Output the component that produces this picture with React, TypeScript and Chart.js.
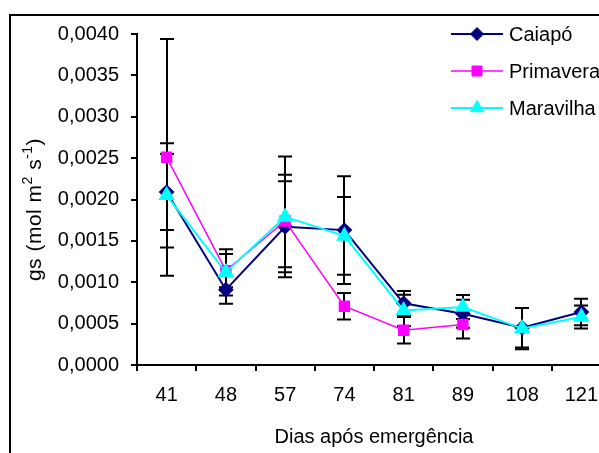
import React, { useEffect, useRef } from 'react';
import { Chart, registerables } from 'chart.js';

Chart.register(...registerables);

const categories = ['41', '48', '57', '74', '81', '89', '108', '121'];
const seriesNames = ['Caiapó', 'Primavera', 'Maravilha'];

const caiapo = [0.00209, 0.00091, 0.00167, 0.00163, 0.000745, 0.00062, 0.00045, 0.00064];
const caiapoErr = [0.00046, 0.00017, 0.00055, 0.00065, 0.00015, 0.00017, 0.00024, 0.00016];

const primavera = [0.00251, 0.00114, 0.00174, 0.00071, 0.00042, 0.00049, null, null];
const primaveraErr = [0.00143, 0.0002, 0.00056, 0.00016, 0.00016, 0.00017, null, null];

const maravilha = [0.00205, 0.00112, 0.00179, 0.00156, 0.00066, 0.0007, 0.00044, 0.00058];
const maravilhaErr = [0.00063, 0.00028, 0.00073, 0.00047, 0.00019, 0.000145, 0.00025, 0.00014];

const yTicks = [0, 0.0005, 0.001, 0.0015, 0.002, 0.0025, 0.003, 0.0035, 0.004];

const xTitle = 'Dias após emergência';
// y title pieces: [text, isSuperscript]
const yTitleParts: [string, boolean][] = [
  ['gs (mol m', false],
  ['2', true],
  [' s', false],
  ['-1', true],
  [')', false],
];

const FONT = '"Liberation Sans", Arial, Helvetica, sans-serif';

const errorBarsPlugin = {
  id: 'errorBars',
  beforeDatasetsDraw(chart: any) {
    const { ctx, scales } = chart;
    const x = scales.x;
    const y = scales.y;
    ctx.save();
    ctx.strokeStyle = '#000';
    ctx.lineWidth = 2;
    chart.data.datasets.forEach((ds: any) => {
      const errs = ds.errors || [];
      ds.data.forEach((v: number | null, i: number) => {
        const e = errs[i];
        if (v == null || e == null) return;
        const px = Math.round(x.getPixelForValue(i));
        const yt = y.getPixelForValue(v + e);
        const yb = y.getPixelForValue(v - e);
        ctx.beginPath();
        ctx.moveTo(px, yt);
        ctx.lineTo(px, yb);
        ctx.moveTo(px - 7, yt);
        ctx.lineTo(px + 7, yt);
        ctx.moveTo(px - 7, yb);
        ctx.lineTo(px + 7, yb);
        ctx.stroke();
      });
    });
    ctx.restore();
  },
};

function drawMarker(ctx: CanvasRenderingContext2D, style: string, x: number, y: number, color: string) {
  ctx.fillStyle = color;
  ctx.strokeStyle = color;
  ctx.lineWidth = 1;
  ctx.beginPath();
  if (style === 'rectRot') {
    ctx.moveTo(x, y - 6.5);
    ctx.lineTo(x + 6.5, y);
    ctx.lineTo(x, y + 6.5);
    ctx.lineTo(x - 6.5, y);
  } else if (style === 'rect') {
    ctx.rect(x - 5, y - 5, 10, 10);
  } else {
    ctx.moveTo(x, y - 7.5);
    ctx.lineTo(x + 6.5, y + 3.75);
    ctx.lineTo(x - 6.5, y + 3.75);
  }
  ctx.closePath();
  ctx.fill();
  ctx.stroke();
}

const legendPlugin = {
  id: 'excelLegend',
  afterDraw(chart: any) {
    const { ctx, chartArea } = chart;
    ctx.save();
    chart.data.datasets.forEach((ds: any, i: number) => {
      const y = chartArea.top + i * 37;
      const x0 = chartArea.right - 160;
      const x1 = chartArea.right - 108;
      ctx.strokeStyle = ds.borderColor;
      ctx.lineWidth = ds.borderWidth;
      ctx.beginPath();
      ctx.moveTo(x0, y);
      ctx.lineTo(x1, y);
      ctx.stroke();
      drawMarker(ctx, ds.pointStyle, (x0 + x1) / 2, y, ds.pointBackgroundColor);
      ctx.fillStyle = '#000';
      ctx.font = `20px ${FONT}`;
      ctx.textAlign = 'left';
      ctx.textBaseline = 'middle';
      ctx.fillText(ds.label, x1 + 6, y + 1);
    });
    ctx.restore();
  },
};

const yTitlePlugin = {
  id: 'yTitle',
  afterDraw(chart: any) {
    const { ctx, chartArea } = chart;
    ctx.save();
    const cy = (chartArea.top + chartArea.bottom) / 2 + 10;
    ctx.translate(29.5, cy);
    ctx.rotate(-Math.PI / 2);
    ctx.fillStyle = '#000';
    ctx.textAlign = 'left';
    ctx.textBaseline = 'alphabetic';
    try {
      (ctx as any).letterSpacing = '0.5px';
    } catch (e) {
      /* ignore */
    }
    const fontFor = (sup: boolean) => `${sup ? 14 : 21}px ${FONT}`;
    let total = 0;
    yTitleParts.forEach(([t, sup]) => {
      ctx.font = fontFor(sup);
      total += ctx.measureText(t).width;
    });
    let x = -total / 2;
    yTitleParts.forEach(([t, sup]) => {
      ctx.font = fontFor(sup);
      ctx.fillText(t, x, sup ? -9 : 0);
      x += ctx.measureText(t).width;
    });
    ctx.restore();
  },
};

export default function App() {
  const canvasRef = useRef<HTMLCanvasElement | null>(null);

  useEffect(() => {
    if (!canvasRef.current) return;
    Chart.defaults.font.family = FONT;
    Chart.defaults.font.size = 20;
    Chart.defaults.color = '#000';

    const chart = new Chart(canvasRef.current, {
      type: 'line',
      data: {
        labels: categories,
        datasets: [
          {
            label: seriesNames[0],
            data: caiapo,
            errors: caiapoErr,
            borderColor: '#000080',
            backgroundColor: '#000080',
            pointBackgroundColor: '#000080',
            pointBorderColor: '#000080',
            pointStyle: 'rectRot',
            pointRadius: 6.5,
            borderWidth: 2,
            order: 3,
          } as any,
          {
            label: seriesNames[1],
            data: primavera,
            errors: primaveraErr,
            borderColor: '#FF00FF',
            backgroundColor: '#FF00FF',
            pointBackgroundColor: '#FF00FF',
            pointBorderColor: '#FF00FF',
            pointStyle: 'rect',
            pointRadius: 7,
            borderWidth: 1.5,
            order: 2,
          } as any,
          {
            label: seriesNames[2],
            data: maravilha,
            errors: maravilhaErr,
            borderColor: '#00FFFF',
            backgroundColor: '#00FFFF',
            pointBackgroundColor: '#00FFFF',
            pointBorderColor: '#00FFFF',
            pointStyle: 'triangle',
            pointRadius: 7.5,
            borderWidth: 2,
            order: 1,
          } as any,
        ],
      },
      options: {
        animation: false,
        responsive: false,
        devicePixelRatio: 1,
        layout: { padding: { top: 18, right: 60, bottom: 20, left: 0 } },
        plugins: {
          legend: { display: false },
          tooltip: { enabled: false },
        },
        elements: { line: { tension: 0 } },
        scales: {
          x: {
            type: 'category',
            offset: true,
            grid: {
              offset: true,
              drawOnChartArea: false,
              drawTicks: true,
              tickLength: 6,
              color: '#000',
              lineWidth: 2,
            },
            border: { display: true, color: '#000', width: 2 },
            ticks: { padding: 12, maxRotation: 0, autoSkip: false, color: '#000', font: { size: 20 } },
            title: { display: true, text: xTitle, color: '#000', font: { size: 20 }, padding: { top: 0, bottom: 7 } },
            afterFit(scale: any) {
              scale.height = 91;
              scale.paddingLeft = 0;
              scale.paddingRight = 0;
            },
          },
          y: {
            type: 'linear',
            min: 0,
            max: 0.004,
            afterBuildTicks(scale: any) {
              scale.ticks = yTicks.map((v) => ({ value: v }));
            },
            grid: {
              drawOnChartArea: false,
              drawTicks: true,
              tickLength: 6,
              color: '#000',
              lineWidth: 2,
            },
            border: { display: true, color: '#000', width: 2 },
            ticks: {
              padding: 12,
              color: '#000',
              font: { size: 20 },
              callback: (v: any) => Number(v).toFixed(4).replace('.', ','),
            },
            title: { display: false },
            afterFit(scale: any) {
              scale.width = 126;
              scale.paddingTop = 0;
              scale.paddingBottom = 0;
            },
          },
        },
      } as any,
      plugins: [errorBarsPlugin, legendPlugin, yTitlePlugin],
    });

    return () => chart.destroy();
  }, []);

  return (
    <div style={{ position: 'fixed', left: 0, top: 0, width: 599, height: 453, overflow: 'hidden', background: '#fff' }}>
      <div style={{ position: 'absolute', left: 9, top: 14, width: 660, height: 460, border: '2px solid #000' }}>
        <canvas ref={canvasRef} width={660} height={460} style={{ display: 'block', width: 660, height: 460 }} />
      </div>
    </div>
  );
}
